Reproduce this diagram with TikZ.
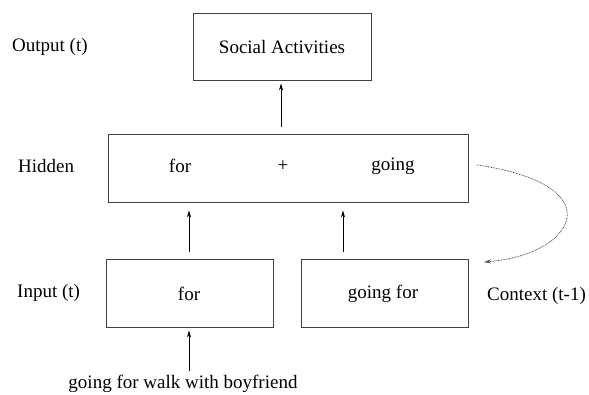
\documentclass[tikz,border=0pt]{standalone}
\usepackage{fontspec}
\setmainfont{Liberation Serif}
\newfontfamily\diagfont{Liberation Serif}
\usetikzlibrary{arrows.meta,calc}
\begin{document}
\begin{tikzpicture}[x=1pt,y=-1pt,
  box/.style={draw=black!75,line width=0.8pt,inner sep=0pt},
  lbl/.style={font=\diagfont\fontsize{19}{22}\selectfont,inner sep=0pt},
  arr/.style={-{Stealth[length=7pt,width=4pt]},line width=0.7pt},
  dotarr/.style={-{Stealth[length=7pt,width=4pt]},line width=0.8pt,black!70,dash pattern=on 0.8pt off 0.8pt}]
\useasboundingbox (0,0) rectangle (589,394);
% boxes
\node[box,minimum width=178pt,minimum height=67pt] (out) at (282,46.5) {};
\node[box,minimum width=360pt,minimum height=68pt] (hid) at (288,168) {};
\node[box,minimum width=167pt,minimum height=68pt] (inp) at (189.5,293) {};
\node[box,minimum width=167pt,minimum height=68pt] (ctx) at (384.5,293) {};
% box texts
\node[lbl] (outt) at (282,47) {Social Activities};
\node[lbl] (hfor) at (180,166) {for};
\node[lbl] (hplus) at (283,166) {+};
\node[lbl] (hgo) at (393,166) {going};
\node[lbl] (ifor) at (189,294) {for};
\node[lbl] (cgo) at (383,294) {going for};
% side labels
\node[lbl,anchor=west] (lout) at (12,47) {Output (t)};
\node[lbl,anchor=west] (lhid) at (18,166) {Hidden};
\node[lbl,anchor=west] (linp) at (17,293) {Input (t)};
\node[lbl,anchor=west] (lctx) at (487,296) {Context (t-1)};
\node[lbl] (src) at (183,384) {going for walk with boyfriend};
% arrows
\coordinate (a0) at (281,0);
\coordinate (a1) at (189,0);
\coordinate (a2) at (343,0);
\draw[arr,shorten <=7pt,shorten >=3pt] (hid.north -| a0) -- (out.south -| a0);
\draw[arr,shorten <=7pt,shorten >=8pt] (inp.north -| a1) -- (hid.south -| a1);
\draw[arr,shorten <=7pt,shorten >=8pt] (ctx.north -| a2) -- (hid.south -| a2);
\draw[arr,shorten <=4pt,shorten >=3pt] (src.north -| a1) -- (inp.south -| a1);
% recurrent dotted
\coordinate (ds) at (477,165);
\coordinate (de) at (484,262);
\draw[dotarr] (ds) .. controls (615,185) and (575,255) .. (de);
\end{tikzpicture}
\end{document}
